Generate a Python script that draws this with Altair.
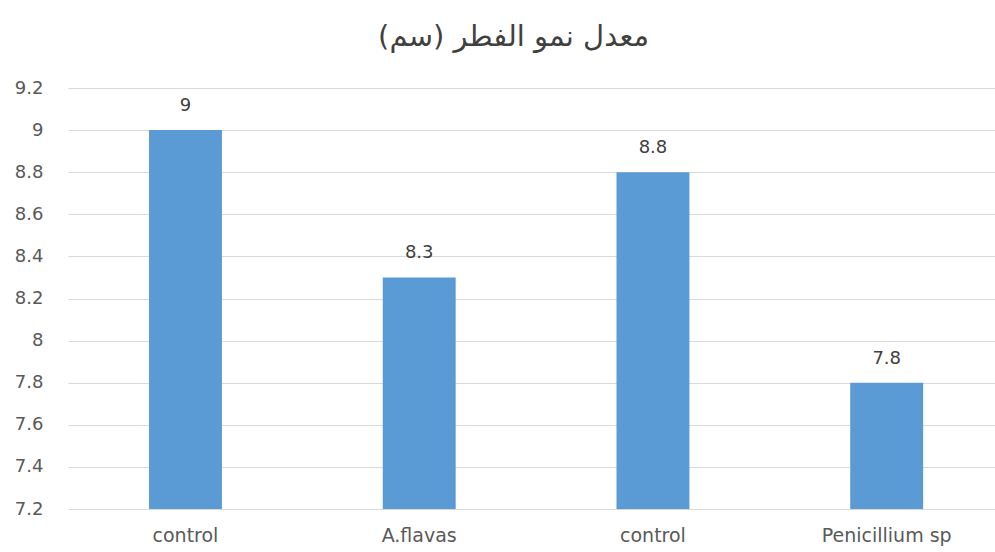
import altair as alt
import pandas as pd
import json

title_text = "معدل نمو الفطر (سم)"
categories = ["control", "A.flavas", "control", "Penicillium sp"]
values = [9, 8.3, 8.8, 7.8]
y_ticks = [7.2, 7.4, 7.6, 7.8, 8.0, 8.2, 8.4, 8.6, 8.8, 9.0, 9.2]

df = pd.DataFrame({"idx": list(range(len(categories))), "cat": categories, "val": values})
label_expr = json.dumps(categories) + "[datum.value]"

FONT = "DejaVu Sans"

x_enc = alt.X("idx:O", title=None,
              scale=alt.Scale(paddingInner=0.688, paddingOuter=0.327, align=0.53),
              axis=alt.Axis(labelExpr=label_expr, labelAngle=0, ticks=False, domain=False,
                            labelFontSize=19, labelColor="#595959", labelFont=FONT,
                            labelPadding=17, grid=False))
y_enc = alt.Y("val:Q", title=None,
              scale=alt.Scale(domain=[7.2, 9.2], zero=False, nice=False),
              axis=alt.Axis(values=y_ticks, ticks=False, domain=False,
                            labelFontSize=18, labelColor="#595959", labelFont=FONT,
                            labelPadding=25, gridColor="#d9d9d9", gridWidth=1,
                            labelExpr="format(datum.value, '.1~f')"))

bars = alt.Chart(df).mark_bar(color="#5b9bd5", clip=True).encode(x=x_enc, y=y_enc, y2=alt.datum(7.2))
texts = alt.Chart(df).mark_text(baseline="bottom", dy=-15, fontSize=18, color="#404040", font=FONT).encode(
    x="idx:O", y="val:Q", text=alt.Text("val:Q", format=".1~f"))

chart = (bars + texts).properties(
    width=927, height=421,
    title=alt.TitleParams(text=title_text, fontSize=29, font="DejaVu Sans", fontWeight="normal",
                          color="#404040", anchor="middle", dx=-18, offset=27),
    autosize=alt.AutoSizeParams(type="none"),
    padding={"left": 68, "top": 88, "right": 0, "bottom": 43},
).configure_view(stroke=None)

chart.save("out.html", embed_options={"renderer": "svg", "actions": False})
